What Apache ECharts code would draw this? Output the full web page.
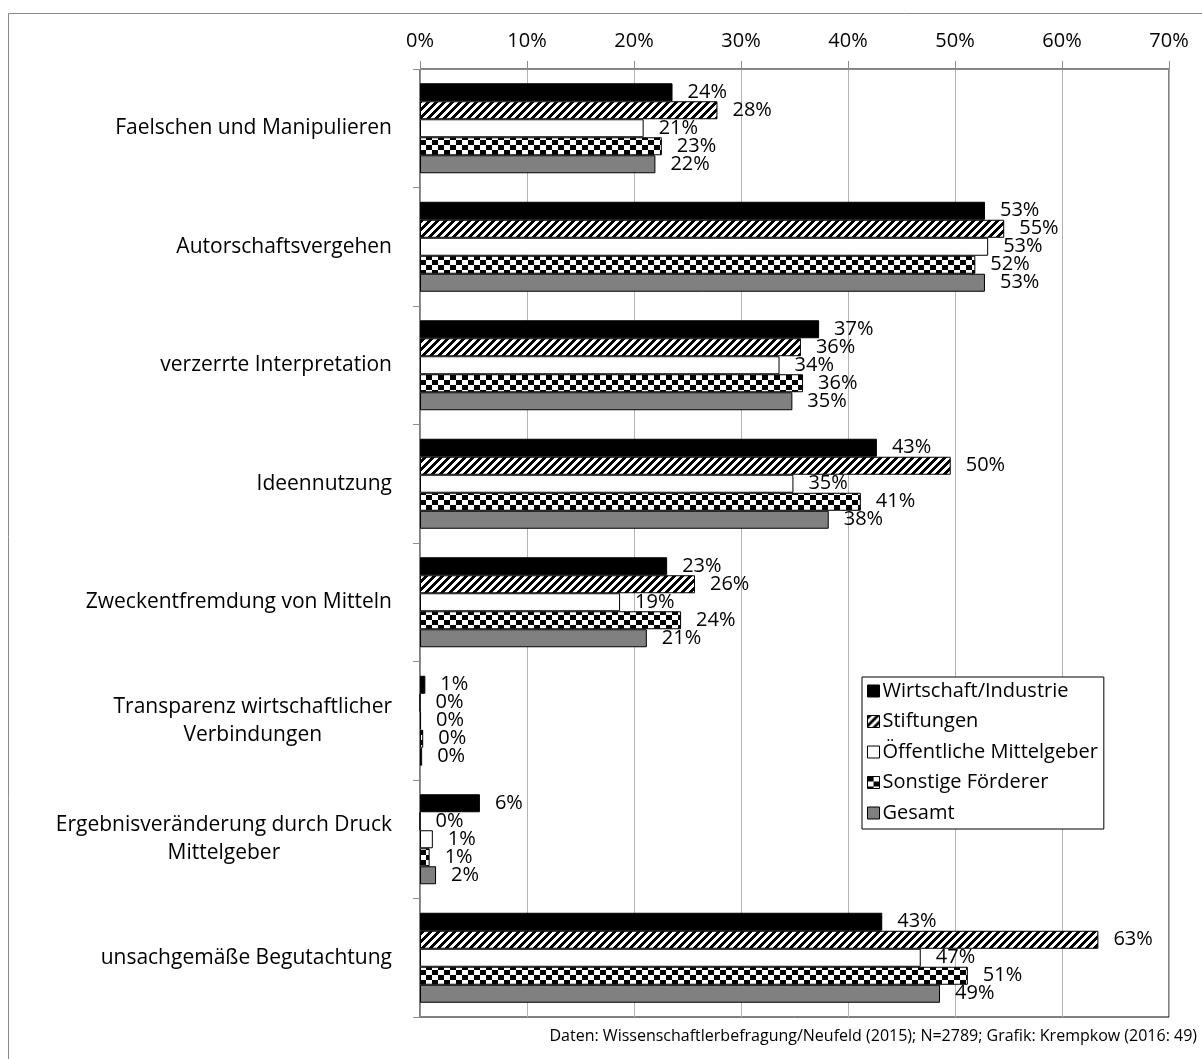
<!DOCTYPE html>
<html>
<head>
<meta charset="utf-8">
<script src="https://cdn.jsdelivr.net/npm/echarts@6/dist/echarts.min.js"></script>
<style>
html,body{margin:0;padding:0;background:#fff;}
#chart{width:1202px;height:1059px;}
</style>
</head>
<body>
<div id="chart"></div>
<script>
var categories = [
  'Faelschen und Manipulieren',
  'Autorschaftsvergehen',
  'verzerrte Interpretation',
  'Ideennutzung',
  'Zweckentfremdung von Mitteln',
  'Transparenz wirtschaftlicher\nVerbindungen',
  'Ergebnisveränderung durch Druck\nMittelgeber',
  'unsachgemäße Begutachtung'
];
var seriesNames = ['Wirtschaft/Industrie', 'Stiftungen', 'Öffentliche Mittelgeber', 'Sonstige Förderer', 'Gesamt'];
var wirtschaft = [23.6, 52.8, 37.3, 42.7, 23.1, 0.5, 5.6, 43.2];
var stiftungen = [27.8, 54.6, 35.6, 49.6, 25.7, 0.0, 0.0, 63.4];
var oeffentlich = [20.9, 53.1, 33.6, 34.9, 18.7, 0.1, 1.2, 46.8];
var sonstige = [22.6, 51.9, 35.8, 41.2, 24.4, 0.3, 0.9, 51.2];
var gesamt = [22.0, 52.8, 34.8, 38.2, 21.2, 0.2, 1.5, 48.6];
var xTicks = [0, 10, 20, 30, 40, 50, 60, 70];

function makeStripes() {
  var c = document.createElement('canvas');
  c.width = 8; c.height = 8;
  var ctx = c.getContext('2d');
  var img = ctx.createImageData(8, 8);
  for (var y = 0; y < 8; y++) {
    for (var x = 0; x < 8; x++) {
      var v = ((x + y) % 8) < 4 ? 0 : 255;
      var i = (y * 8 + x) * 4;
      img.data[i] = v; img.data[i + 1] = v; img.data[i + 2] = v; img.data[i + 3] = 255;
    }
  }
  ctx.putImageData(img, 0, 0);
  return c;
}
function makeChecker() {
  var w = 12, h = 10;
  var c = document.createElement('canvas');
  c.width = w; c.height = h;
  var ctx = c.getContext('2d');
  ctx.fillStyle = '#fff';
  ctx.fillRect(0, 0, w, h);
  ctx.fillStyle = '#000';
  ctx.fillRect(0, 0, 6, 5);
  ctx.fillRect(6, 5, 6, 5);
  return c;
}

var FONT = 'Open Sans';
var fills = [
  '#000000',
  {image: makeStripes(), repeat: 'repeat'},
  '#ffffff',
  {image: makeChecker(), repeat: 'repeat'},
  '#808080'
];
var dataSets = [wirtschaft, stiftungen, oeffentlich, sonstige, gesamt];

var chart = echarts.init(document.getElementById('chart'), null, {renderer: 'canvas'});

var series = dataSets.map(function (d, i) {
  return {
    name: seriesNames[i],
    type: 'bar',
    data: d,
    barWidth: 18,
    barGap: '0%',
    itemStyle: {color: fills[i], borderColor: '#000', borderWidth: 1},
    label: {
      show: true,
      position: 'right',
      distance: 15,
      fontFamily: FONT,
      fontSize: 20,
      color: '#000',
      formatter: function (p) { return Math.round(p.value) + '%'; }
    },
    emphasis: {disabled: true}
  };
});

chart.setOption({
  animation: false,
  textStyle: {fontFamily: FONT},
  graphic: [
    {type: 'rect', shape: {x: 8.5, y: 13.5, width: 1220, height: 1080}, style: {fill: null, stroke: '#8a8a8a', lineWidth: 1}, silent: true, z: -10},
    {type: 'text', right: 5, top: 1028, style: {text: 'Daten: Wissenschaftlerbefragung/Neufeld (2015); N=2789; Grafik: Krempkow (2016: 49)', font: '16px "' + FONT + '"', fill: '#000'}}
  ],
  legend: {
    orient: 'vertical',
    left: 862,
    top: 677,
    padding: [3, 6, 5, 5],
    itemWidth: 12,
    itemHeight: 12,
    itemGap: 8.5,
    backgroundColor: '#fff',
    borderColor: '#000',
    borderWidth: 1,
    borderRadius: 0,
    icon: 'rect',
    textStyle: {fontFamily: FONT, fontSize: 20, color: '#000', padding: [0, 0, 0, -2], lineHeight: 22},
    itemStyle: {borderColor: '#000', borderWidth: 1},
    data: seriesNames,
    selectedMode: false,
    z: 10
  },
  grid: {left: 420, top: 69, width: 749, height: 948, show: true, borderColor: '#000', borderWidth: 1, containLabel: false},
  xAxis: {
    type: 'value',
    position: 'top',
    min: 0,
    max: 70,
    interval: 10,
    axisLine: {show: true, lineStyle: {color: '#8c8c8c', width: 1}},
    axisTick: {show: true, length: 8, lineStyle: {color: '#8c8c8c'}},
    splitLine: {show: true, lineStyle: {color: '#b3b3b3', width: 1}},
    axisLabel: {margin: 18, fontFamily: FONT, fontSize: 20, color: '#000', formatter: function (v) { return xTicks.indexOf(v) >= 0 ? v + '%' : ''; }}
  },
  yAxis: {
    type: 'category',
    inverse: true,
    data: categories,
    axisLine: {show: true, lineStyle: {color: '#8c8c8c', width: 1}},
    axisTick: {show: true, length: 7, lineStyle: {color: '#8c8c8c'}},
    axisLabel: {
      margin: 28,
      fontFamily: FONT,
      fontSize: 21,
      color: '#000',
      lineHeight: 28,
      formatter: function (v) {
        return v.split('\n').map(function (s) { return '{c|' + s + '}'; }).join('\n');
      },
      rich: {c: {align: 'center', fontFamily: FONT, fontSize: 21, lineHeight: 28, color: '#000'}}
    }
  },
  series: series
});
</script>
</body>
</html>
